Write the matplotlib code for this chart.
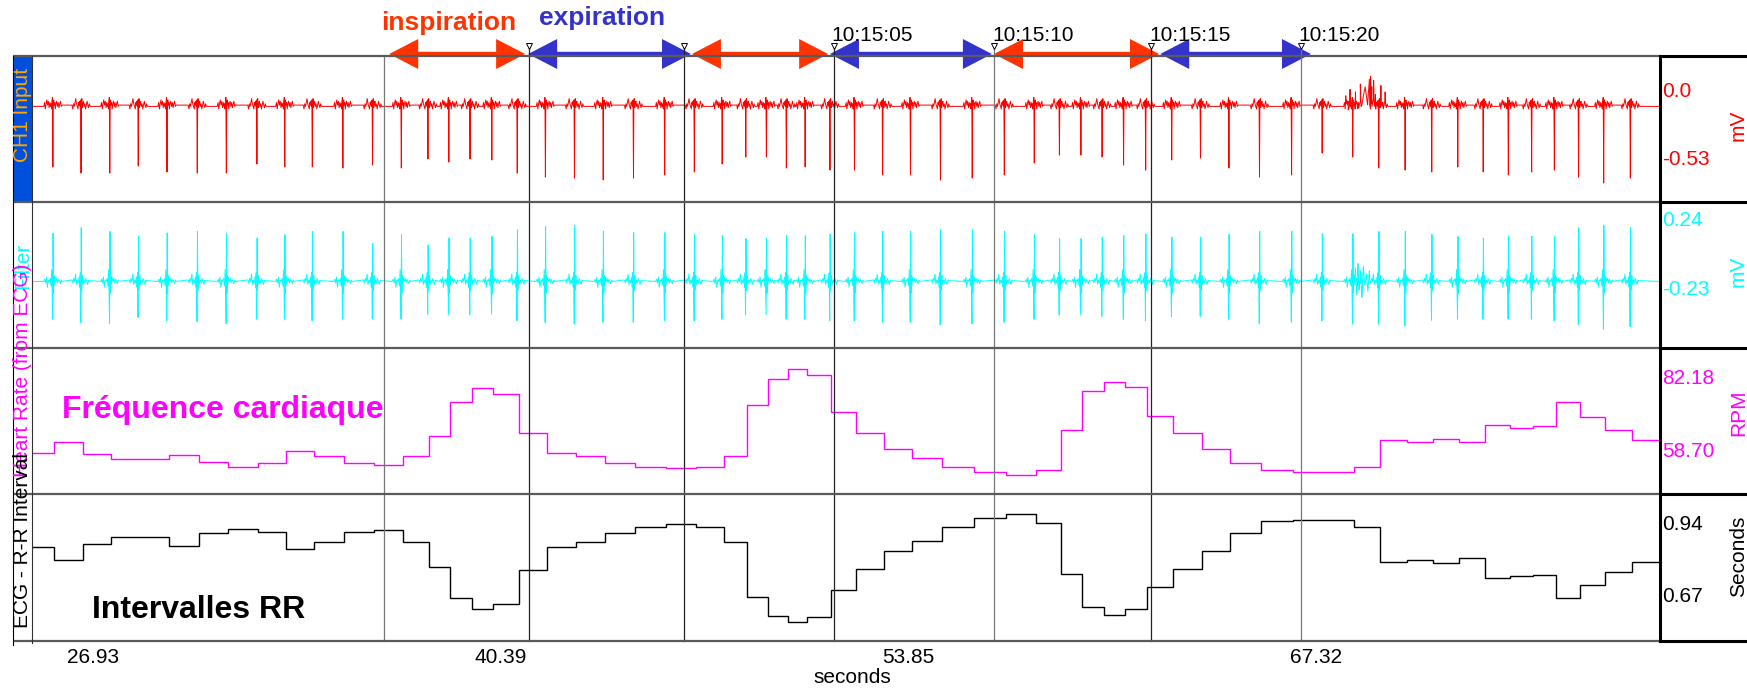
import numpy as np
import matplotlib
matplotlib.use("Agg")
import matplotlib.pyplot as plt
from matplotlib.patches import Polygon, Rectangle

plt.rcParams['font.family'] = ['Liberation Sans', 'DejaVu Sans']

W, H, DPI = 1747, 691, 100
PLOT_L, PLOT_R = 32, 1660
PANEL_Y = [56, 202, 348, 494, 641]

# time axis (s)
t_start, t_end = 24.90, 78.68
xtick_vals = [26.93, 40.39, 53.85, 67.32]

# R-wave detections (s)
beat_times = [25.64, 26.57, 27.52, 28.46, 29.41, 30.41, 31.37, 32.38, 33.30, 34.21,
              35.22, 36.20, 37.15, 38.03, 38.72, 39.42, 40.14, 40.98, 41.91, 42.87,
              43.82, 44.82, 45.85, 46.83, 47.75, 48.53, 49.21, 49.87, 50.49, 51.31,
              52.12, 53.05, 53.97, 54.96, 56.01, 57.07, 58.06, 58.89, 59.60, 60.30,
              61.01, 61.74, 62.60, 63.55, 64.49, 65.50, 66.56, 67.57, 68.58, 69.44,
              70.31, 71.19, 72.05, 72.89, 73.72, 74.49, 75.24, 76.04, 76.87, 77.75]

# heart rate held between detections (BPM), first value = beat before t_start
hr_bpm = [57.50, 60.97, 56.98, 55.35, 55.35, 56.85, 54.57, 52.95, 54.05, 58.05,
          56.42, 54.05, 53.50, 56.42, 63.02, 74.06, 78.61, 76.46, 63.80, 57.40,
          56.42, 54.05, 52.95, 52.43, 52.95, 56.42, 72.89, 81.53, 84.78, 82.73,
          70.81, 63.80, 58.70, 55.87, 52.95, 51.23, 50.16, 51.88, 64.97, 77.54,
          80.46, 78.74, 69.51, 63.89, 58.80, 54.05, 51.78, 51.23, 51.23, 52.95,
          61.62, 61.07, 62.04, 61.07, 66.59, 65.62, 66.17, 74.06, 68.99, 64.97,
          61.62]

# R-R interval (s)
rr_sec = [0.846, 0.798, 0.858, 0.884, 0.884, 0.852, 0.899, 0.916, 0.905, 0.838,
          0.865, 0.904, 0.911, 0.867, 0.773, 0.654, 0.615, 0.634, 0.760, 0.846,
          0.866, 0.899, 0.923, 0.932, 0.923, 0.866, 0.660, 0.586, 0.566, 0.582,
          0.685, 0.764, 0.832, 0.870, 0.922, 0.956, 0.971, 0.937, 0.745, 0.620,
          0.592, 0.614, 0.698, 0.765, 0.832, 0.899, 0.945, 0.950, 0.950, 0.923,
          0.792, 0.798, 0.788, 0.804, 0.731, 0.739, 0.741, 0.654, 0.705, 0.754,
          0.792]

# CH1 input: R spike minimum per beat (mV)
ch1_spike = [-0.601, -0.648, -0.648, -0.594, -0.640, -0.648, -0.648, -0.578, -0.601, -0.601,
             -0.609, -0.586, -0.609, -0.539, -0.563, -0.539, -0.547, -0.648, -0.679, -0.687,
             -0.702, -0.687, -0.663, -0.640, -0.578, -0.524, -0.524, -0.609, -0.601, -0.625,
             -0.625, -0.663, -0.663, -0.702, -0.687, -0.663, -0.570, -0.509, -0.509, -0.524,
             -0.586, -0.625, -0.547, -0.532, -0.609, -0.679, -0.663, -0.493, -0.524, -0.609,
             -0.625, -0.640, -0.601, -0.640, -0.663, -0.640, -0.625, -0.679, -0.725, -0.687]

# filter channel: positive / negative deflection per beat (mV)
filt_up = [0.137, 0.174, 0.148, 0.114, 0.139, 0.148, 0.137, 0.103, 0.126, 0.148,
           0.148, 0.068, 0.126, 0.057, 0.103, 0.103, 0.114, 0.160, 0.183, 0.189,
           0.150, 0.140, 0.140, 0.130, 0.120, 0.100, 0.100, 0.120, 0.120, 0.130,
           0.140, 0.150, 0.150, 0.160, 0.160, 0.150, 0.130, 0.100, 0.100, 0.110,
           0.120, 0.130, 0.110, 0.110, 0.130, 0.150, 0.150, 0.133, 0.133, 0.148,
           0.148, 0.128, 0.114, 0.103, 0.116, 0.116, 0.116, 0.174, 0.189, 0.174]
filt_down = [-0.449, -0.472, -0.479, -0.438, -0.460, -0.465, -0.479, -0.449, -0.449, -0.460,
             -0.449, -0.445, -0.449, -0.415, -0.419, -0.419, -0.415, -0.460, -0.472, -0.483,
             -0.470, -0.470, -0.460, -0.460, -0.450, -0.420, -0.420, -0.450, -0.450, -0.460,
             -0.460, -0.470, -0.470, -0.490, -0.480, -0.470, -0.450, -0.420, -0.420, -0.430,
             -0.450, -0.460, -0.430, -0.430, -0.450, -0.480, -0.470, -0.460, -0.483, -0.483,
             -0.495, -0.456, -0.449, -0.449, -0.449, -0.449, -0.460, -0.488, -0.517, -0.501]

# movement artefact around 10:15:21
art_ch1_t = [68.30, 68.38, 68.44, 68.62, 68.70, 68.78, 68.86, 68.94, 69.02, 69.08,
             69.12, 69.16, 69.22, 69.28, 69.46, 69.52, 69.60]
art_ch1_v = [-0.05, -0.16, 0.00, -0.02, -0.15, 0.04, -0.08, 0.02, -0.12, 0.08,
             0.10, 0.02, 0.07, -0.04, 0.03, -0.10, -0.02]
art_filt_t = [68.62, 68.66, 68.70, 68.74, 68.78, 68.83, 68.88, 68.93, 68.98, 69.03, 69.08, 69.13]
art_filt_v = [-0.10, -0.28, -0.07, -0.25, -0.12, -0.30, -0.09, -0.22, -0.14, -0.26, -0.12, -0.20]

# event marks and breathing phases
event_times = [36.53, 41.33, 46.45, 51.39, 56.68, 61.88, 66.81]
event_dark = [False, True, True, True, False, True, False]
event_flag = [False, True, True, True, True, True, True]
clock_labels = ['', '', '', '10:15:05', '10:15:10', '10:15:15', '10:15:20']
phase_start = [36.70, 41.29, 46.70, 51.26, 56.68, 62.17]
phase_end = [41.19, 46.67, 51.20, 56.61, 62.13, 67.15]
phase_kind = ['insp', 'exp', 'insp', 'exp', 'insp', 'exp']

INSP, EXP = '#ff3300', '#3333cc'

# beat shapes: offsets from R time (s) and from baseline (mV), two variants
detect_lag = 0.05
ch1_base = -0.132
ch1_dt = [-0.30, -0.275, -0.25, -0.225, -0.20, -0.175, -0.15, -0.125, -0.10, -0.08,
          -0.06, -0.045, -0.03, -0.015, 0.0, 0.012, 0.025, 0.04, 0.06, 0.08,
          0.10, 0.125, 0.15, 0.175, 0.20, 0.225, 0.25, 0.275, 0.30]
ch1_dv = [[0.00, 0.03, -0.02, 0.02, 0.05, 0.01, 0.04, -0.01, 0.03, 0.00,
           0.02, -0.02, 0.04, 0.07, 0.0, -0.02, 0.05, 0.01, 0.03, -0.02,
           0.02, 0.04, 0.00, 0.03, -0.01, 0.02, 0.04, 0.00, 0.01],
          [0.01, -0.02, 0.02, 0.00, 0.03, 0.06, 0.02, 0.00, -0.02, 0.03,
           0.01, 0.04, 0.00, 0.05, 0.0, 0.01, 0.06, -0.01, 0.02, 0.04,
           0.00, 0.02, -0.02, 0.01, 0.04, 0.01, -0.01, 0.02, 0.00]]
filt_base = -0.192
filt_dt = [-0.30, -0.27, -0.24, -0.21, -0.18, -0.15, -0.12, -0.09, -0.06, -0.04,
           -0.025, -0.008, 0.006, 0.02, 0.035, 0.05, 0.07, 0.10, 0.13, 0.16,
           0.19, 0.22, 0.25, 0.28, 0.30]
filt_dv = [[0.0, 0.015, -0.01, 0.03, -0.04, 0.01, 0.0, 0.02, -0.03, 0.08,
            -0.05, 0.0, 0.0, -0.08, 0.04, -0.02, 0.03, 0.0, 0.02, -0.01,
            0.015, 0.0, -0.015, 0.01, 0.0],
           [0.01, -0.01, 0.02, 0.0, 0.05, -0.02, 0.01, -0.01, 0.03, -0.04,
            0.06, 0.0, 0.0, -0.06, 0.02, 0.04, -0.02, 0.01, -0.01, 0.02,
            0.0, -0.02, 0.01, 0.0, 0.005]]


def ecg_trace(base, dt, dv, slots, art_t, art_v):
    ts, vs = [t_start], [base]
    for i, tb in enumerate(beat_times):
        r = tb - detect_lag
        shape = dv[i % len(dv)]
        for k in range(len(dt)):
            ts.append(r + dt[k])
            vs.append(slots[k][i] if k in slots else base + shape[k])
    ts += list(art_t) + [t_end]
    vs += list(art_v) + [base]
    ts, vs = np.array(ts), np.array(vs)
    order = np.argsort(ts, kind='stable')
    return ts[order], vs[order]


fig = plt.figure(figsize=(W / DPI, H / DPI), dpi=DPI)


def panel(i, ylim, ticks, labels, color, unit, unit_y):
    top, bot = PANEL_Y[i], PANEL_Y[i + 1]
    ax = fig.add_axes([PLOT_L / W, 1 - bot / H, (PLOT_R - PLOT_L) / W, (bot - top) / H])
    ax.set_xlim(t_start, t_end)
    ax.set_ylim(*ylim)
    ax.patch.set_visible(False)
    for s in ax.spines.values():
        s.set_visible(False)
    ax.set_xticks([])
    ax.yaxis.tick_right()
    ax.set_yticks(ticks, labels=labels)
    ax.tick_params(axis='y', length=0, pad=1.5, labelsize=15, labelcolor=color)
    ax.text((1729 - PLOT_L) / (PLOT_R - PLOT_L), unit_y, unit, transform=ax.transAxes,
            rotation=90, ha='left', va='center', fontsize=15, color=color, clip_on=False)
    return ax


ax1 = panel(0, (-0.872, 0.258), [0.0, -0.53], ['0.0', '-0.53'], '#ff0000', 'mV', 0.527)
t, v = ecg_trace(ch1_base, ch1_dt, ch1_dv, {14: ch1_spike}, art_ch1_t, art_ch1_v)
ax1.plot(t, v, color='#ff0000', lw=0.7)

ax2 = panel(1, (-0.6455, 0.349), [0.24, -0.23], ['0.24', '-0.23'], '#00ffff', 'mV', 0.527)
t, v = ecg_trace(filt_base, filt_dt, filt_dv, {11: filt_down, 12: filt_up}, art_filt_t, art_filt_v)
ax2.plot(t, v, color='#00ffff', lw=0.7)

edges = [t_start] + beat_times + [t_end]
ax3 = panel(2, (44.09, 91.50), [82.18, 58.70], ['82.18', '58.70'], '#ff00ff', 'RPM', 0.555)
ax3.stairs(hr_bpm, edges, baseline=None, color='#ff00ff', lw=1.0)

ax4 = panel(3, (0.493, 1.0466), [0.94, 0.67], ['0.94', '0.67'], '#000000', 'Seconds', 0.578)
ax4.stairs(rr_sec, edges, baseline=None, color='#000000', lw=1.0)
ax4.set_xticks(xtick_vals, labels=[f'{x:.2f}' for x in xtick_vals])
ax4.tick_params(axis='x', length=0, pad=4.8, labelsize=15)
ax4.set_xlabel('seconds', fontsize=15)
ax4.xaxis.set_label_coords((852 - PLOT_L) / (PLOT_R - PLOT_L), -0.186)

# frame, channel boxes and channel names (pixel coordinates)
deco = fig.add_axes([0, 0, 1, 1], zorder=10)
deco.set_xlim(0, W)
deco.set_ylim(H, 0)
deco.axis('off')
deco.add_patch(Rectangle((13, PANEL_Y[0]), PLOT_L - 13, PANEL_Y[1] - PANEL_Y[0],
                         color='#0050dc', lw=0))
for y in PANEL_Y:
    deco.plot([13, PLOT_R], [y, y], color='#5a5a5a', lw=1.6, solid_capstyle='butt')
    deco.plot([PLOT_R, W + 5], [y, y], color='black', lw=2.2, solid_capstyle='butt')
deco.plot([13, 13], [PANEL_Y[0], PANEL_Y[-1] + 4], color='black', lw=0.8)
deco.plot([PLOT_L, PLOT_L], [PANEL_Y[0], PANEL_Y[-1] + 2], color='#333333', lw=0.8)
deco.plot([PLOT_R, PLOT_R], [PANEL_Y[0], PANEL_Y[-1]], color='black', lw=2.2)

for txt, yc, col in [('CH1 Input', 115, '#ffa500'), ('Filter', 266, '#00ffff'),
                     ('Heart Rate (from ECG)', 370, '#ff00ff'),
                     ('ECG - R-R Interval', 541, '#000000')]:
    deco.text(13, yc, txt, rotation=90, ha='left', va='center', fontsize=15, color=col)

# event marks, breathing arrows and notes (x in seconds, y in pixels)
ov = fig.add_axes([PLOT_L / W, 0, (PLOT_R - PLOT_L) / W, 1], zorder=9)
ov.set_xlim(t_start, t_end)
ov.set_ylim(H, 0)
ov.axis('off')

for te, dark, flag, lab in zip(event_times, event_dark, event_flag, clock_labels):
    ov.plot([te, te], [44 if flag else PANEL_Y[0], PANEL_Y[-1]],
            color='#222222' if dark else '#777777', lw=0.9, clip_on=False)
    if flag:
        ov.plot(te, 46, marker='v', ms=5, mfc='white', mec='black', mew=0.7, clip_on=False)
    if lab:
        ov.text(te - 0.07, 41, lab, ha='left', va='baseline', fontsize=15, color='black')

px_s = (PLOT_R - PLOT_L) / (t_end - t_start)
head = 29 / px_s
yc, hw, sw = 54, 15, 2.2
for ts, te, kind in zip(phase_start, phase_end, phase_kind):
    pts = [(ts, yc), (ts + head, yc - hw), (ts + head, yc - sw), (te - head, yc - sw),
           (te - head, yc - hw), (te, yc), (te - head, yc + hw), (te - head, yc + sw),
           (ts + head, yc + sw), (ts + head, yc + hw)]
    ov.add_patch(Polygon(pts, closed=True, color=INSP if kind == 'insp' else EXP,
                         lw=0, clip_on=False))

ov.text(38.65, 30, 'inspiration', ha='center', va='baseline', fontsize=19,
        fontweight='bold', color=INSP)
ov.text(43.73, 25, 'expiration', ha='center', va='baseline', fontsize=19,
        fontweight='bold', color=EXP)
ov.text(25.89, 418, 'Fréquence cardiaque', ha='left', va='baseline', fontsize=23,
        fontweight='bold', color='#ff00ff')
ov.text(26.88, 618, 'Intervalles RR', ha='left', va='baseline', fontsize=23,
        fontweight='bold', color='black')

fig.savefig('out.png', dpi=DPI)
